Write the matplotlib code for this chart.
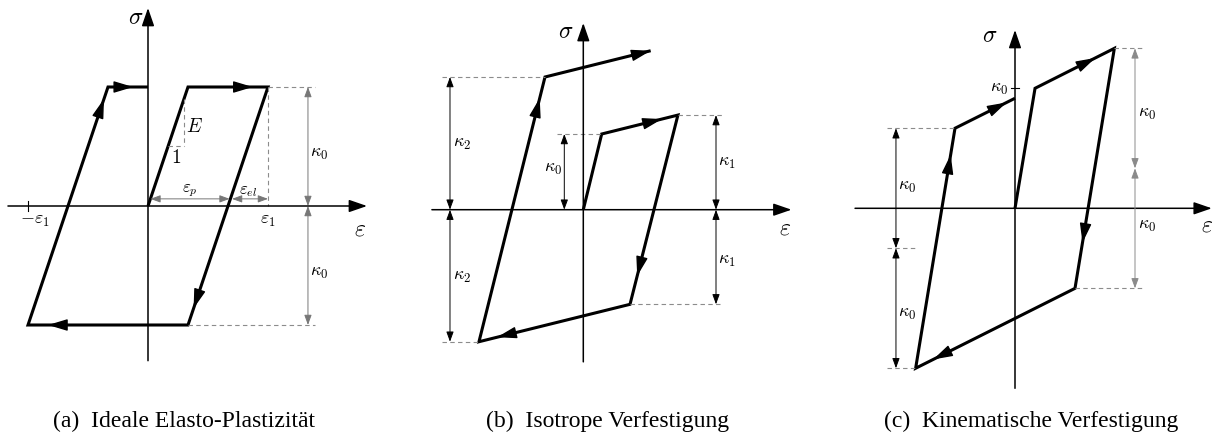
import numpy as np
import matplotlib.pyplot as plt

plt.rcParams['mathtext.fontset'] = 'cm'

W, H = 1212, 432

# (a) ideale Elasto-Plastizitaet: eps in units of eps1, sigma in units of kappa0
a_eps = [0, 1/3, 1, 1/3, -1, -1/3, 0]
a_sig = [0, 1, 1, -1, -1, 1, 1]
# (segment index, position of arrow tip along the segment)
a_arrows = [(1, 0.81), (2, 0.93), (3, 0.875), (4, 0.95), (5, 0.63)]

# (b) isotrope Verfestigung: units of kappa0
b_eps = [0, 0.243, 1.25, 0.617, -1.378, -0.506, 0.89]
b_sig = [0, 1.0, 1.25, -1.25, -1.744, 1.753, 2.10]
b_arrows = [(1, 0.79), (2, 0.85), (3, 0.88), (4, 0.92), (5, 1.0)]

# (c) kinematische Verfestigung: units of kappa0
c_eps = [0, 0.167, 0.828, 0.5, -0.828, -0.5, 0]
c_sig = [0, 1.0, 1.333, -0.667, -1.333, 0.667, 0.917]
c_arrows = [(1, 0.76), (2, 0.81), (3, 0.89), (4, 0.89), (5, 0.86)]

captions = ["(a)  Ideale Elasto-Plastizität",
            "(b)  Isotrope Verfestigung",
            "(c)  Kinematische Verfestigung"]

fig = plt.figure(figsize=(W / 100, H / 100), dpi=100)

DASH = dict(color='#8c8c8c', lw=0.8, ls=(0, (4, 3)))
DIM_HEAD = '<|-|>,head_length=0.6,head_width=0.22'
KS = 13  # size of kappa labels


def panel(ox, oy, sx, sy):
    ax = fig.add_axes([0, 0, 1, 1])
    ax.set_xlim((0 - ox) / sx, (W - ox) / sx)
    ax.set_ylim((oy - H) / sy, oy / sy)
    ax.axis('off')
    return ax


def coord_axes(ax, x0, x1, y0, y1):
    st = dict(arrowstyle='-|>,head_length=1.1,head_width=0.38', mutation_scale=10,
              color='k', lw=1.1, shrinkA=0, shrinkB=0)
    ax.annotate('', xy=(x1, 0), xytext=(x0, 0), arrowprops=st)
    ax.annotate('', xy=(0, y1), xytext=(0, y0), arrowprops=st)


def path(ax, eps, sig, arrows):
    ax.plot(eps, sig, color='k', lw=2.2, solid_joinstyle='miter', solid_capstyle='butt')
    for i, t in arrows:
        p0 = np.array([eps[i], sig[i]])
        p1 = np.array([eps[i + 1], sig[i + 1]])
        tip = p0 + t * (p1 - p0)
        tail = p0 + (t - 0.08) * (p1 - p0)
        ax.annotate('', xy=tip, xytext=tail,
                    arrowprops=dict(arrowstyle='-|>,head_length=1.2,head_width=0.36',
                                    mutation_scale=10, color='k', lw=1.0,
                                    shrinkA=0, shrinkB=0))


def dim(ax, p, q, color='k'):
    ax.annotate('', xy=q, xytext=p,
                arrowprops=dict(arrowstyle=DIM_HEAD, mutation_scale=10, color=color,
                                lw=0.7, shrinkA=0, shrinkB=0))


def dash(ax, xs, ys):
    ax.plot(xs, ys, **DASH)


# ---------------- (a)
ax = panel(148, 206, 120, 119)
coord_axes(ax, -1.167, 1.825, -1.30, 1.664)
path(ax, a_eps, a_sig, a_arrows)
dash(ax, [1, 1.39], [1, 1])
dash(ax, [1 / 3, 1.39], [-1, -1])
dash(ax, [1, 1], [1, 0])
dash(ax, [0.3, 0.3], [0.9, 0.504])
dash(ax, [0.168, 0.3], [0.504, 0.504])
g = '#777777'
dim(ax, (1.333, 1), (1.333, 0), g)
dim(ax, (1.333, 0), (1.333, -1), g)
dim(ax, (0.02, 0.06), (0.68, 0.06), g)
dim(ax, (0.70, 0.06), (1.0, 0.06), g)
ax.plot([-1, -1], [-0.045, 0.045], color='k', lw=0.8)
ax.text(-0.1, 1.588, r'$\sigma$', fontsize=17, ha='center', va='center')
ax.text(1.767, -0.185, r'$\varepsilon$', fontsize=17, ha='center', va='center')
ax.text(-0.94, -0.118, r'$-\varepsilon_1$', fontsize=13, ha='center', va='center')
ax.text(1.0, -0.118, r'$\varepsilon_1$', fontsize=13, ha='center', va='center')
ax.text(0.39, 0.664, r'$E$', fontsize=14, ha='center', va='center')
ax.text(0.233, 0.41, r'$1$', fontsize=14, ha='center', va='center')
ax.text(0.35, 0.134, r'$\varepsilon_p$', fontsize=12, ha='center', va='center')
ax.text(0.83, 0.134, r'$\varepsilon_{el}$', fontsize=12, ha='center', va='center')
ax.text(1.425, 0.445, r'$\kappa_0$', fontsize=KS, ha='center', va='center')
ax.text(1.425, -0.555, r'$\kappa_0$', fontsize=KS, ha='center', va='center')

# ---------------- (b)
ax = panel(583.3, 209.7, 75.7, 75.7)
coord_axes(ax, -2.0, 2.75, -2.01, 2.466)
path(ax, b_eps, b_sig, b_arrows)
dash(ax, [-1.86, -0.506], [1.753, 1.753])
dash(ax, [-1.86, -1.378], [-1.744, -1.744])
dash(ax, [-0.351, 0.243], [1, 1])
dash(ax, [1.25, 1.845], [1.25, 1.25])
dash(ax, [0.617, 1.845], [-1.25, -1.25])
dim(ax, (-1.761, 1.753), (-1.761, 0))
dim(ax, (-1.761, 0), (-1.761, -1.744))
dim(ax, (-0.251, 1.0), (-0.251, 0))
dim(ax, (1.753, 1.25), (1.753, 0))
dim(ax, (1.753, 0), (1.753, -1.25))
ax.text(-0.23, 2.36, r'$\sigma$', fontsize=17, ha='center', va='center')
ax.text(2.66, -0.23, r'$\varepsilon$', fontsize=17, ha='center', va='center')
ax.text(-1.606, 0.88, r'$\kappa_2$', fontsize=KS, ha='center', va='center')
ax.text(-1.606, -0.876, r'$\kappa_2$', fontsize=KS, ha='center', va='center')
ax.text(-0.404, 0.551, r'$\kappa_0$', fontsize=KS, ha='center', va='center')
ax.text(1.894, 0.63, r'$\kappa_1$', fontsize=KS, ha='center', va='center')
ax.text(1.894, -0.664, r'$\kappa_1$', fontsize=KS, ha='center', va='center')

# ---------------- (c)
ax = panel(1015, 208.3, 120, 120)
coord_axes(ax, -1.333, 1.64, -1.50, 1.486)
path(ax, c_eps, c_sig, c_arrows)
dash(ax, [0.828, 1.056], [1.333, 1.333])
dash(ax, [0.5, 1.056], [-0.667, -0.667])
dash(ax, [-1.069, -0.5], [0.667, 0.667])
dash(ax, [-1.069, -0.819], [-0.333, -0.333])
dash(ax, [-1.069, -0.828], [-1.333, -1.333])
dim(ax, (1.0, 1.333), (1.0, 0.333), '#8a8a8a')
dim(ax, (1.0, 0.333), (1.0, -0.667), '#8a8a8a')
dim(ax, (-0.992, 0.667), (-0.992, -0.333))
dim(ax, (-0.992, -0.333), (-0.992, -1.333))
ax.plot([-0.037, 0.037], [1, 1], color='k', lw=0.8)
ax.text(-0.06, 1.0, r'$\kappa_0$', fontsize=KS, ha='right', va='center')
ax.text(-0.208, 1.444, r'$\sigma$', fontsize=17, ha='center', va='center')
ax.text(1.6, -0.139, r'$\varepsilon$', fontsize=17, ha='center', va='center')
ax.text(1.1, 0.795, r'$\kappa_0$', fontsize=KS, ha='center', va='center')
ax.text(1.1, -0.139, r'$\kappa_0$', fontsize=KS, ha='center', va='center')
ax.text(-0.9, 0.186, r'$\kappa_0$', fontsize=KS, ha='center', va='center')
ax.text(-0.9, -0.87, r'$\kappa_0$', fontsize=KS, ha='center', va='center')

# captions
for cx, cap in zip([184, 608, 1031], captions):
    fig.text(cx / W, 1 - 427 / H, cap, fontsize=17, family='Liberation Serif',
             ha='center', va='baseline')

fig.savefig('out.png', dpi=100)
